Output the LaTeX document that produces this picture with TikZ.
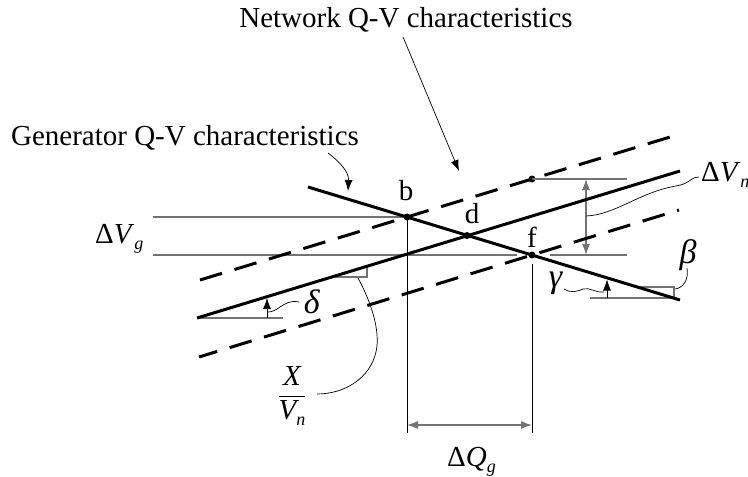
\documentclass[tikz,border=0pt]{standalone}
\usepackage{fontspec}
\setmainfont{Liberation Serif}
\usetikzlibrary{arrows.meta}
\newcommand\bigf{\fontsize{29}{32}\selectfont}
\newcommand\grkf{\fontsize{34}{36}\selectfont}
\newcommand\subf{\fontsize{18}{20}\selectfont}
\newcommand\sbs[1]{\raisebox{-6pt}{\subf\itshape #1}}
\begin{document}
\begin{tikzpicture}[x=1pt,y=-1pt,
  thickline/.style={line width=3pt},
  dashline/.style={line width=3pt, dash pattern=on 23pt off 13pt},
  refline/.style={line width=1.2pt, black!55},
  dimline/.style={line width=0.9pt},
  lbl/.style={font=\bigf, inner sep=0pt, anchor=base},
  grk/.style={font=\grkf, inner sep=0pt, anchor=base},
  tip/.style={-{Latex[length=11pt,width=8pt]}},
  tips/.style={{Latex[length=11pt,width=8pt]}-{Latex[length=11pt,width=8pt]}},
  ptdot/.style={circle, fill, inner sep=0pt, minimum size=7pt},
  note/.style={line width=0.7pt}
]
\useasboundingbox (0,0) rectangle (748,477);
% main line end points
\coordinate (G1) at (308,187);
\coordinate (G2) at (680,300);
\coordinate (N1) at (197,318);
\coordinate (N2) at (680,171);
\coordinate (U1) at (200,280);
\coordinate (U2) at (680,134);
\coordinate (L1) at (199,357);
\coordinate (L2) at (679,210);
% points
\node[ptdot] (b) at (407,217) {};
\node[ptdot] (d) at (467,235.5) {};
\node[ptdot] (f) at (532,255) {};
\node[ptdot] (e) at (532,179) {};
% reference lines
\draw[refline] (153,217) -- (b.center);
\draw[refline] (153,255) -- (517,255);
\draw[refline] (550,255) -- (627,255);
\draw[refline] (e.center) -- (627,179);
\draw[dimline] (b.center) -- (407,433);
\draw[dimline] (532,264) -- (532,433);
\draw[refline, tips] (407,425) -- (532,425);
\draw[refline, tips] (586,179) -- (586,255);
% slope marks
\draw[refline] (332,277) -- (367,277) -- (367,266);
\draw[refline] (N1) -- (283,318);
\draw[note, tip] (267,318) -- (267,298);
\draw[refline] (590,298) -- (674,298) -- (674,287) -- (637,287);
\draw[note, tip] (607,298) -- (607,279.5);
% main lines
\draw[dashline] (U1) -- (U2);
\draw[dashline, dash phase=21pt] (L2) -- (L1);
\draw[thickline] (G1) -- (G2);
\draw[thickline] (N1) -- (N2);
% labels
\node[lbl] (net) at (406,27) {Network Q-V characteristics};
\node[lbl] (gen) at (185,145) {Generator Q-V characteristics};
\node[lbl] (lb) at (406,200) {b};
\node[lbl] (ld) at (472,223) {d};
\node[lbl] (lf) at (532,247) {f};
\node[lbl, anchor=base west] (dvg) at (95,243) {Δ\textit{V}\sbs{g}};
\node[lbl, anchor=base west] (dvn) at (701,181) {Δ\textit{V}\sbs{n}};
\node[lbl, anchor=base west] (dqg) at (447,466) {Δ\textit{Q}\sbs{g}};
\node[grk] (del) at (312,313) {\textit{δ}};
\node[grk] (gam) at (556,287) {\textit{γ}};
\node[grk] (bet) at (688,263) {\textit{β}};
\node[inner sep=0pt, font=\bigf] (frac) at (292,396) {$\displaystyle\frac{\mbox{\itshape X}}{\mbox{\itshape V\sbs{n}}}$};
% connectors
\coordinate (netA) at (459,171);
\draw[note, tip] ([xshift=-3pt,yshift=-5pt]net.south) -- (netA);
\coordinate (genS) at (328,153);
\coordinate (genA) at (348,191);
\draw[note, tip] (genS) .. controls (340,162) and (349,172) .. (genA);
\draw[note] (699,177) .. controls (692,176) and (690,184) .. (676,186) .. controls (640,192) and (615,215) .. (586,216);
\draw[note] (564,289) .. controls (570,293) and (576,292) .. (583,289) .. controls (590,287) and (595,293) .. (604,292);
\draw[note] (299,302) .. controls (290,300) and (285,304) .. (280,307) .. controls (276,310) and (272,312) .. (268,312);
\draw[note] (687,268) .. controls (689,280) and (683,288) .. (675,289);
\draw[note] (358,278) .. controls (370,300) and (381,330) .. (376,352) .. controls (370,378) and (345,394) .. (317,394);
\end{tikzpicture}
\end{document}
